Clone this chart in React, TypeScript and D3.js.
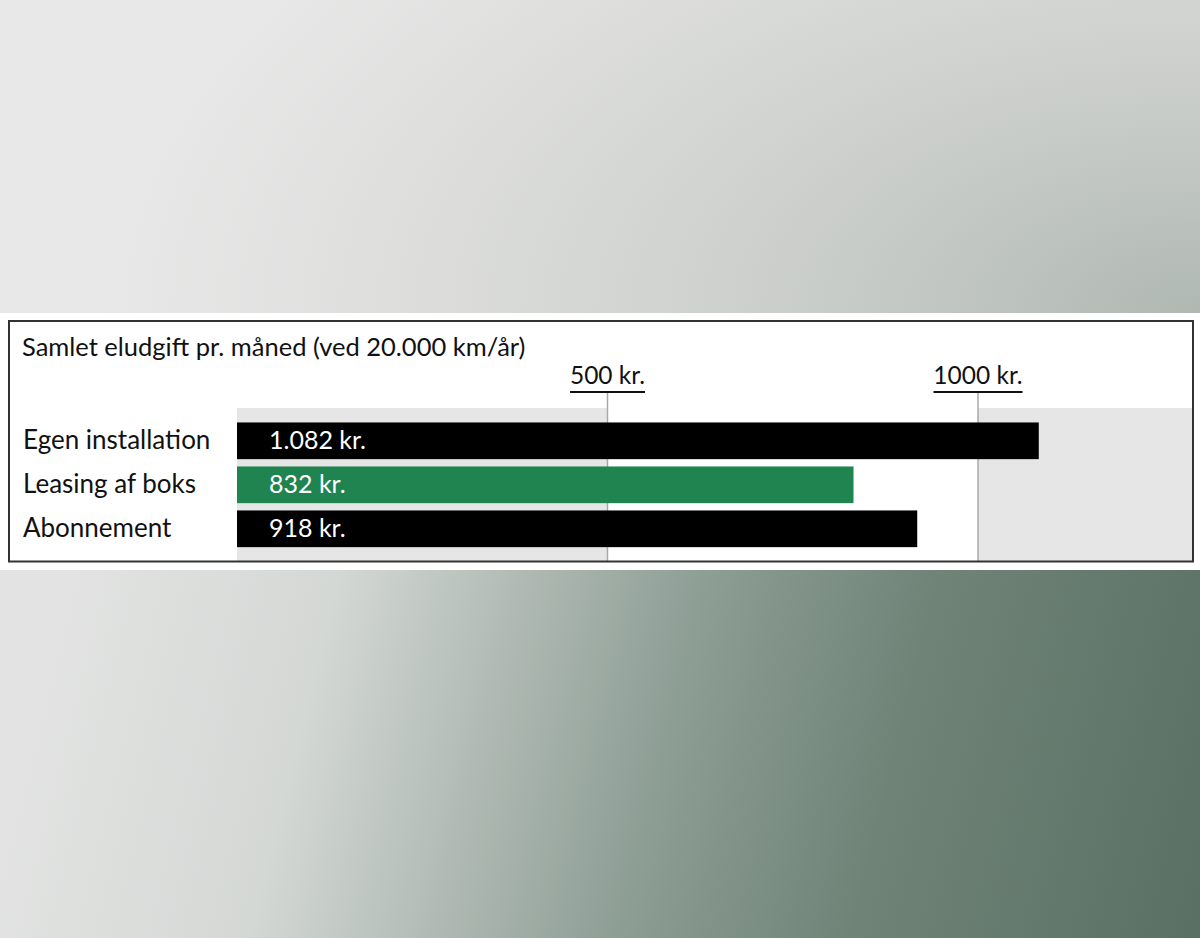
import React from "react";
import * as d3 from "d3";

const categories = ["Egen installation", "Leasing af boks", "Abonnement"];
const values = [1082, 832, 918];
const valueLabels = ["1.082 kr.", "832 kr.", "918 kr."];
const barColors = ["#000000", "#1f8450", "#000000"];
const tickValues = [500, 1000];
const tickLabels = ["500 kr.", "1000 kr."];
const title = "Samlet eludgift pr. måned (ved 20.000 km/år)";

const W = 1200;
const H = 938;
const FONT = "Lato, 'Open Sans', sans-serif";

export default function App() {
  const plotLeft = 237;
  const plotRight = 1193;
  const x = d3.scaleLinear().domain([0, 1000]).range([plotLeft, 978]);
  const xMax = x.invert(plotRight);
  const y = d3
    .scaleBand<string>()
    .domain(categories)
    .range([418.8, 550.8])
    .paddingInner(0.166)
    .paddingOuter(0.083);

  const bandEdges = [0, ...tickValues, xMax];
  const bandTop = 408;
  const bandBottom = 561;

  return (
    <svg
      width={W}
      height={H}
      style={{ position: "absolute", left: 0, top: 0, display: "block" }}
      fontFamily={FONT}
    >
      <defs>
        <radialGradient
          id="topGrad"
          gradientUnits="userSpaceOnUse"
          cx={1200}
          cy={313}
          r={1100}
          gradientTransform="translate(1200 313) scale(1 0.55) translate(-1200 -313)"
        >
          <stop offset="0" stopColor="#b0b8b2" />
          <stop offset="0.35" stopColor="#c9cdca" />
          <stop offset="0.7" stopColor="#dcdddb" />
          <stop offset="1" stopColor="#e8e8e8" />
        </radialGradient>
        <linearGradient id="botGrad" gradientUnits="userSpaceOnUse" x1={60} y1={620} x2={1200} y2={900}>
          <stop offset="0" stopColor="#e2e3e2" />
          <stop offset="0.22" stopColor="#d4d8d5" />
          <stop offset="0.4" stopColor="#aab5ae" />
          <stop offset="0.52" stopColor="#8e9f96" />
          <stop offset="0.72" stopColor="#6f8377" />
          <stop offset="1" stopColor="#5b7064" />
        </linearGradient>
      </defs>
      <rect x={0} y={0} width={W} height={313} fill="url(#topGrad)" />
      <rect x={0} y={313} width={W} height={257} fill="#ffffff" />
      <rect x={0} y={570} width={W} height={H - 570} fill="url(#botGrad)" />

      {/* bands */}
      {bandEdges.slice(0, -1).map((v, i) => (
        <rect
          key={"b" + i}
          x={x(v)}
          y={bandTop}
          width={x(bandEdges[i + 1]) - x(v)}
          height={bandBottom - bandTop}
          fill={i % 2 === 0 ? "#e6e6e6" : "#ffffff"}
        />
      ))}

      {/* grid lines & tick labels */}
      {tickValues.map((t, i) => {
        const tx = x(t);
        return (
          <g key={"t" + i}>
            <line x1={tx} x2={tx} y1={393} y2={bandBottom} stroke="#a8a8a8" strokeWidth={1.5} />
            <text x={tx} y={384} textAnchor="middle" fontSize={24.5} fill="#111">
              {tickLabels[i]}
            </text>
          </g>
        );
      })}
      {tickValues.map((t, i) => {
        const tx = x(t);
        const half = i === 0 ? 37.5 : 44.5;
        return (
          <line
            key={"u" + i}
            x1={tx - half}
            x2={tx + half}
            y1={392}
            y2={392}
            stroke="#111"
            strokeWidth={2}
          />
        );
      })}

      {/* bars */}
      {categories.map((c, i) => {
        const by = y(c) as number;
        const bh = y.bandwidth();
        return (
          <g key={"bar" + i}>
            <rect x={x(0)} y={by} width={x(values[i]) - x(0)} height={bh} fill={barColors[i]} />
            <text x={x(0) + 32} y={by + bh / 2 + 8.5} fontSize={25} fill="#ffffff">
              {valueLabels[i]}
            </text>
            <text x={23} y={by + bh / 2 + 8.5} fontSize={26} fill="#111">
              {c}
            </text>
          </g>
        );
      })}

      {/* title */}
      <text x={22} y={356} fontSize={25.5} fill="#111">
        {title}
      </text>

      {/* frame */}
      <rect x={9} y={321} width={1184} height={240.5} fill="none" stroke="#333" strokeWidth={2} />
    </svg>
  );
}
